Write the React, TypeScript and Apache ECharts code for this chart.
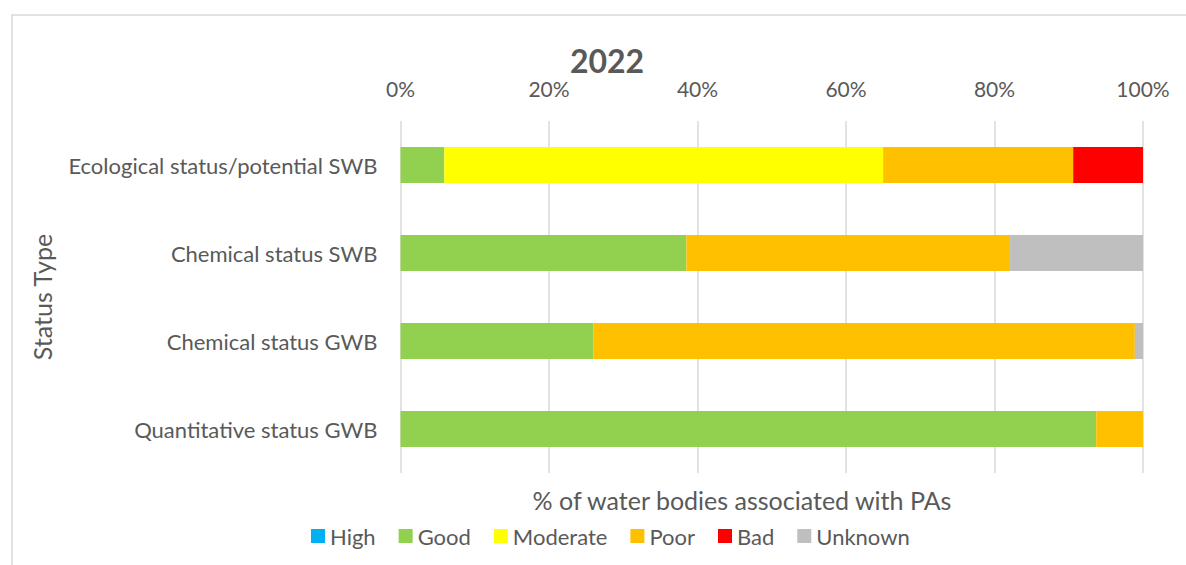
import React, { useEffect, useRef } from "react";
import * as echarts from "echarts";

const categories = [
  "Ecological status/potential SWB",
  "Chemical status SWB",
  "Chemical status GWB",
  "Quantitative status GWB",
];
const high = [0, 0, 0, 0];
const good = [5.9, 38.5, 26.0, 93.7];
const moderate = [59.1, 0, 0, 0];
const poor = [25.6, 43.6, 72.9, 6.3];
const bad = [9.4, 0, 0, 0];
const unknown = [0, 17.9, 1.1, 0];
const xTicks = [0, 20, 40, 60, 80, 100];

const FONT = "Lato, 'Open Sans', sans-serif";
const TXT = "#595959";

export default function App() {
  const ref = useRef<HTMLDivElement>(null);
  useEffect(() => {
    const chart = echarts.init(ref.current!, null, { renderer: "svg" });
    const mk = (name: string, data: number[], color: string) => ({
      name,
      type: "bar",
      stack: "s",
      data,
      barWidth: 36,
      itemStyle: { color },
      emphasis: { disabled: true },
    });
    chart.setOption({
      animation: false,
      textStyle: { fontFamily: FONT },
      title: [
        {
          text: "2022",
          left: 602,
          top: 39,
          textAlign: "center",
          textStyle: { fontSize: 32, fontWeight: "bold", color: TXT, fontFamily: FONT },
        },
        {
          text: "% of water bodies associated with PAs",
          left: 737,
          top: 482,
          textAlign: "center",
          textStyle: { fontSize: 25, fontWeight: "normal", color: TXT, fontFamily: FONT },
        },
      ],
      graphic: [
        {
          type: "rect",
          shape: { x: 12, y: 15, width: 1300, height: 700 },
          style: { fill: "none", stroke: "#d9d9d9", lineWidth: 1.5 },
          silent: true,
        },
      ],
      legend: {
        left: 306,
        top: 520,
        itemWidth: 14,
        itemHeight: 14,
        itemGap: 23,
        icon: "rect",
        formatter: (n: string) => (n === "High" ? `{w|${n}}` : n),
        textStyle: {
          fontSize: 22,
          color: TXT,
          fontFamily: FONT,
          rich: { w: { width: 58, fontSize: 22, color: TXT, fontFamily: FONT } },
        },
        data: ["High", "Good", "Moderate", "Poor", "Bad", "Unknown"],
      },
      grid: { left: 400.5, right: 43, top: 121, bottom: 92 },
      xAxis: {
        type: "value",
        position: "top",
        min: 0,
        max: 100,
        interval: 20,
        axisLine: { show: false },
        axisTick: { show: false },
        splitLine: { lineStyle: { color: "#d9d9d9", width: 1.5 } },
        axisLabel: {
          formatter: (v: number) => (xTicks.includes(v) ? v + "%" : ""),
          fontSize: 21,
          color: TXT,
          margin: 22,
          fontFamily: FONT,
        },
      },
      yAxis: {
        type: "category",
        inverse: true,
        data: categories,
        axisLine: { show: false },
        axisTick: { show: false },
        axisLabel: { fontSize: 22, color: TXT, margin: 23, fontFamily: FONT },
        name: "Status Type",
        nameLocation: "middle",
        nameGap: 346,
        nameTextStyle: { fontSize: 25, color: TXT, fontFamily: FONT },
      },
      series: [
        mk("High", high, "#00B0F0"),
        mk("Good", good, "#92D050"),
        mk("Moderate", moderate, "#FFFF00"),
        mk("Poor", poor, "#FFC000"),
        mk("Bad", bad, "#FF0000"),
        mk("Unknown", unknown, "#BFBFBF"),
      ],
    });
    return () => chart.dispose();
  }, []);
  return (
    <div
      ref={ref}
      style={{ position: "fixed", left: 0, top: 0, width: 1186, height: 565, background: "#fff" }}
    />
  );
}
